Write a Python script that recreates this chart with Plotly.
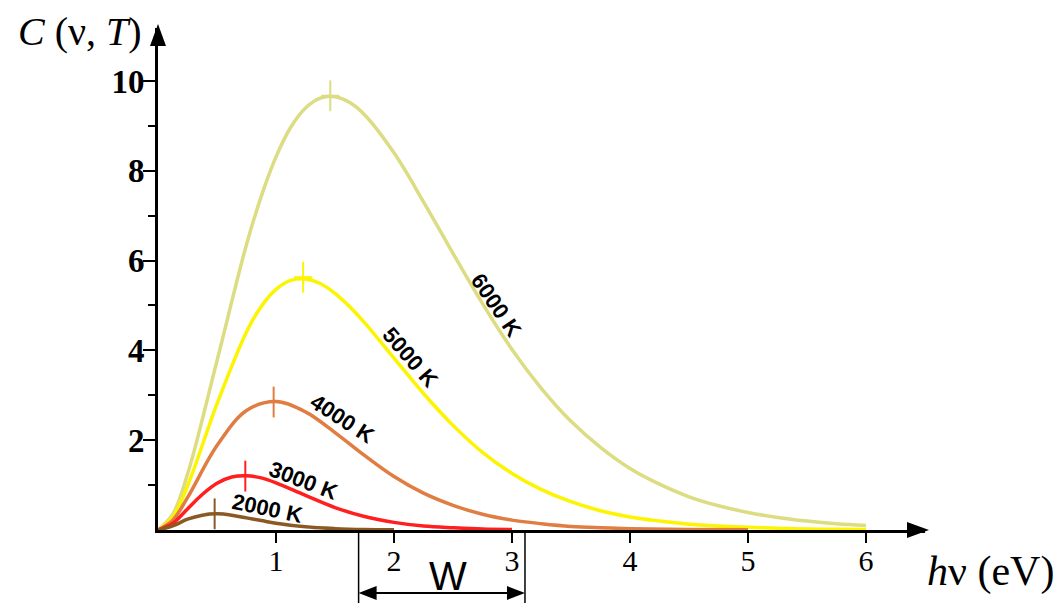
import plotly.graph_objects as go

# ---- data ----
temps = ["6000 K", "5000 K", "4000 K", "3000 K", "2000 K"]
colors = ["#dcdc82", "#fcf400", "#e07d42", "#ff1f1f", "#8b5a24"]

energy_6000 = [0, 0.125, 0.25, 0.5, 0.75, 0.875, 1.0, 1.125, 1.25, 1.375, 1.5, 1.625, 1.75,
               2.0, 2.25, 2.5, 2.75, 3.0, 3.25, 3.5, 3.75, 4.0, 4.25, 4.5, 4.75, 5.0,
               5.25, 5.5, 5.75, 6.0]
c_6000 = [0, 0.35, 1.24, 3.77, 6.36, 7.43, 8.31, 8.97, 9.40, 9.62, 9.65, 9.52, 9.25,
          8.40, 7.31, 6.16, 5.04, 4.02, 3.15, 2.42, 1.84, 1.37, 1.02, 0.74, 0.54, 0.39,
          0.28, 0.20, 0.14, 0.10]

energy_5000 = energy_6000
c_5000 = [0, 0.29, 0.98, 2.81, 4.41, 4.98, 5.36, 5.56, 5.59, 5.49, 5.27, 4.97, 4.62,
          3.83, 3.04, 2.33, 1.73, 1.26, 0.90, 0.63, 0.43, 0.29, 0.20, 0.13, 0.09, 0.06,
          0.04, 0.02, 0.015, 0.01]

energy_4000 = [0, 0.125, 0.25, 0.5, 0.75, 1.0, 1.25, 1.5, 1.75, 2.0, 2.25, 2.5, 2.75, 3.0,
               3.25, 3.5, 3.75, 4.0, 4.5, 5.0]
c_4000 = [0, 0.22, 0.72, 1.88, 2.66, 2.86, 2.63, 2.17, 1.66, 1.19, 0.82, 0.55, 0.35, 0.22,
          0.14, 0.08, 0.05, 0.03, 0.01, 0.003]

energy_3000 = [0, 0.125, 0.25, 0.375, 0.5, 0.625, 0.75, 0.875, 1.0, 1.25, 1.5, 1.75, 2.0,
               2.25, 2.5, 2.75, 3.0]
c_3000 = [0, 0.15, 0.47, 0.79, 1.04, 1.18, 1.21, 1.16, 1.05, 0.77, 0.50, 0.30, 0.17,
          0.09, 0.05, 0.02, 0.01]

energy_2000 = [0, 0.125, 0.25, 0.375, 0.5, 0.625, 0.75, 0.875, 1.0, 1.25, 1.5, 1.75, 2.0]
c_2000 = [0, 0.09, 0.24, 0.33, 0.36, 0.33, 0.27, 0.21, 0.15, 0.07, 0.03, 0.01, 0.004]

peak_energy = [1.46, 1.23, 0.98, 0.74, 0.48]
peak_c = [9.67, 5.63, 2.85, 1.20, 0.36]

label_x = [2.87, 2.14, 1.56, 1.23, 0.93]
label_y = [5.01, 3.85, 2.49, 1.11, 0.49]
label_angle = [56, 49, 33, 21, 12]

x_ticks = [1, 2, 3, 4, 5, 6]
y_ticks = [2, 4, 6, 8, 10]
y_minor = [1, 3, 5, 7, 9]
W_START, W_END = 1.70, 3.11

X_MAX, Y_MAX = 6.5, 11.18

# ---- figure geometry (pixels) ----
FW, FH = 1059, 603
L, R, T, B = 158, 925, 28, 530
PW, PH = R - L, B - T


def px(x):
    return (x - L) / PW


def py(y):
    return (B - y) / PH


series = [(energy_6000, c_6000), (energy_5000, c_5000), (energy_4000, c_4000),
          (energy_3000, c_3000), (energy_2000, c_2000)]

fig = go.Figure()
for (ex, cy), col, name in zip(series, colors, temps):
    fig.add_trace(go.Scatter(x=ex, y=cy, mode="lines", name=name,
                             line=dict(color=col, width=3.5, shape="spline", smoothing=1.0),
                             hoverinfo="skip"))

# peak crosses
fig.add_trace(go.Scatter(x=peak_energy, y=peak_c, mode="markers", showlegend=False,
                         marker=dict(symbol="line-ns", size=22,
                                     line=dict(color=colors, width=2)), cliponaxis=False,
                         hoverinfo="skip"))
fig.add_trace(go.Scatter(x=peak_energy, y=peak_c, mode="markers", showlegend=False,
                         marker=dict(symbol="line-ew", size=13,
                                     line=dict(color=colors, width=2)), cliponaxis=False,
                         hoverinfo="skip"))

annotations = []
for t, lx, ly, ang in zip(temps, label_x, label_y, label_angle):
    annotations.append(dict(x=lx, y=ly, xref="x", yref="y", text=t, showarrow=False,
                            textangle=ang, xanchor="center", yanchor="middle",
                            font=dict(family="Liberation Sans", size=22, color="black",
                                      weight="bold")))

annotations.append(dict(x=px(80), y=py(32), xref="paper", yref="paper",
                        xanchor="center", yanchor="middle",
                        text="<i>C</i> (ν, <i>T</i>)", showarrow=False,
                        font=dict(family="Liberation Serif", size=40, color="black")))
annotations.append(dict(x=px(990), y=py(571), xref="paper", yref="paper",
                        xanchor="center", yanchor="middle",
                        text="<i>h</i>ν (eV)", showarrow=False,
                        font=dict(family="Liberation Serif", size=42, color="black")))
annotations.append(dict(x=px(448), y=py(576), xref="paper", yref="paper",
                        xanchor="center", yanchor="middle",
                        text="W", showarrow=False,
                        font=dict(family="Liberation Sans", size=40, color="black")))

shapes = []
# axis arrowheads
shapes.append(dict(type="path", xref="paper", yref="paper",
                   path=f"M {px(158)},{py(24)} L {px(150)},{py(46)} L {px(166)},{py(46)} Z",
                   fillcolor="black", line=dict(width=0)))
shapes.append(dict(type="path", xref="paper", yref="paper",
                   path=f"M {px(929)},{py(530)} L {px(907)},{py(522)} L {px(907)},{py(538)} Z",
                   fillcolor="black", line=dict(width=0)))
# W bracket
ws, we = W_START / X_MAX, W_END / X_MAX
for xv in (ws, we):
    shapes.append(dict(type="line", xref="paper", yref="paper", x0=xv, x1=xv,
                       y0=py(532), y1=py(603), line=dict(color="black", width=1.5)))
ya = py(593)
shapes.append(dict(type="line", xref="paper", yref="paper", x0=ws + 10 / PW, x1=we - 10 / PW,
                   y0=ya, y1=ya, line=dict(color="black", width=2)))
shapes.append(dict(type="path", xref="paper", yref="paper",
                   path=f"M {ws},{ya} L {ws + 18 / PW},{ya + 7 / PH} L {ws + 18 / PW},{ya - 7 / PH} Z",
                   fillcolor="black", line=dict(width=0)))
shapes.append(dict(type="path", xref="paper", yref="paper",
                   path=f"M {we},{ya} L {we - 18 / PW},{ya + 7 / PH} L {we - 18 / PW},{ya - 7 / PH} Z",
                   fillcolor="black", line=dict(width=0)))

fig.update_layout(
    width=FW, height=FH,
    margin=dict(l=L, r=FW - R, t=T, b=FH - B, pad=0),
    paper_bgcolor="white", plot_bgcolor="white",
    showlegend=False,
    annotations=annotations, shapes=shapes,
    xaxis=dict(range=[0, X_MAX], showgrid=False, zeroline=False, showline=True,
               linecolor="black", linewidth=3, ticks="outside", ticklen=10, tickwidth=2,
               tickcolor="black", tickvals=x_ticks, ticktext=[str(v) for v in x_ticks],
               ticklabelstandoff=-8,
               tickfont=dict(family="Liberation Serif", size=30, color="black")),
    yaxis=dict(range=[0, Y_MAX], showgrid=False, zeroline=False, showline=True,
               linecolor="black", linewidth=3, ticks="outside", ticklen=12, tickwidth=2,
               tickcolor="black", tickvals=y_ticks, ticktext=[f"<b>{v}</b>" for v in y_ticks],
               ticklabelstandoff=-8,
               minor=dict(tickvals=y_minor, ticks="outside", ticklen=7, tickwidth=2,
                          tickcolor="black", showgrid=False),
               tickfont=dict(family="Liberation Serif", size=33, color="black")),
)

fig.write_html("out.html", config={"displayModeBar": False},
               post_script="document.body.style.margin='0px';")
